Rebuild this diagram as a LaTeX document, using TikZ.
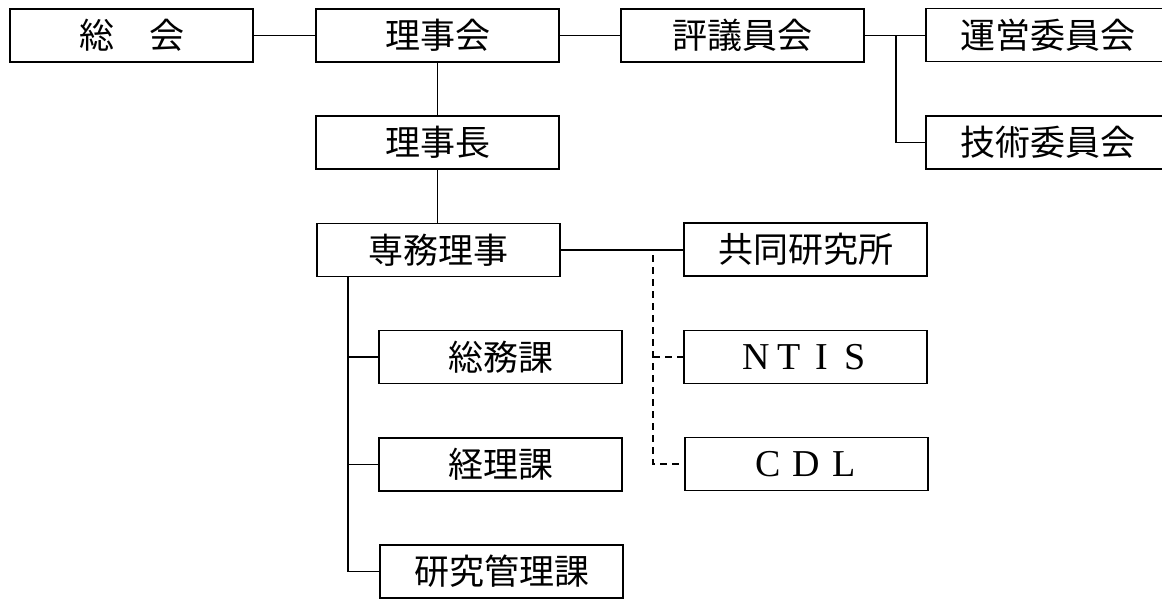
\documentclass[tikz,border=0pt]{standalone}
\usepackage{fontspec}
\newfontfamily\jp{Noto Sans CJK JP}
\setmainfont{Liberation Serif}
\begin{document}
\begin{tikzpicture}[x=1pt,y=1pt,
  box/.style={draw, line width=1.4pt, minimum width=243pt, minimum height=53pt, inner sep=0pt,
    font=\jp\fontsize{35}{38}\selectfont},
  wbox/.style={box, minimum width=260pt},
  lat/.style={box, font=\fontsize{38}{40}\selectfont},
  conn/.style={line width=1.3pt},
  dconn/.style={line width=1.2pt, dash pattern=on 7pt off 5pt}]
\useasboundingbox (0,0) rectangle (1162,-599);
\clip (0,0) rectangle (1162,-599);
\node[box] (soukai) at (131.5,-35.5) {総　会};
\node[box] (rijikai) at (437.5,-35.5) {理事会};
\node[box] (hyougi) at (742.5,-35.5) {評議員会};
\node[wbox] (unei) at (1056,-35) {\hspace*{-17pt}運営委員会};
\node[wbox] (gijutsu) at (1056,-142.5) {\hspace*{-17pt}技術委員会};
\node[box] (rijichou) at (437.5,-142.5) {理事長};
\node[box] (senmu) at (438.5,-250) {専務理事};
\node[box] (kyoudou) at (805.5,-249.5) {共同研究所};
\node[lat] (ntis) at (805.5,-357) {\makebox[33pt]{N}\makebox[33pt]{T}\makebox[33pt]{I}\makebox[33pt]{S}};
\node[lat] (cdl) at (806.5,-464) {\makebox[38pt]{C}\makebox[38pt]{D}\makebox[38pt]{L}};
\node[box] (soumu) at (500.5,-357) {総務課};
\node[box] (keiri) at (500.5,-464.5) {経理課};
\node[box] (kenkyu) at (501.5,-571.5) {研究管理課};

\coordinate (j1) at (896,-35.5);
\coordinate (d0) at (653,-255);
\coordinate (s0) at (348,-276.5);

\draw[conn] (soukai.east) -- (rijikai.west);
\draw[conn] (rijikai.south) -- (rijichou.north);
\draw[conn] (rijichou.south) -- (rijichou.south |- senmu.north);
\draw[conn] (rijikai.east) -- (hyougi.west);
\draw[conn] (hyougi.east) -- (unei.west |- hyougi.east);
\draw[conn] (j1) |- (gijutsu.west);
\draw[conn] (senmu.east) -- (kyoudou.west |- senmu.east);
\draw[dconn] (d0) |- (cdl.west);
\draw[dconn] (d0 |- ntis.west) -- (ntis.west);
\draw[conn] (s0) |- (kenkyu.west);
\draw[conn] (s0 |- soumu.west) -- (soumu.west);
\draw[conn] (s0 |- keiri.west) -- (keiri.west);
\end{tikzpicture}
\end{document}
